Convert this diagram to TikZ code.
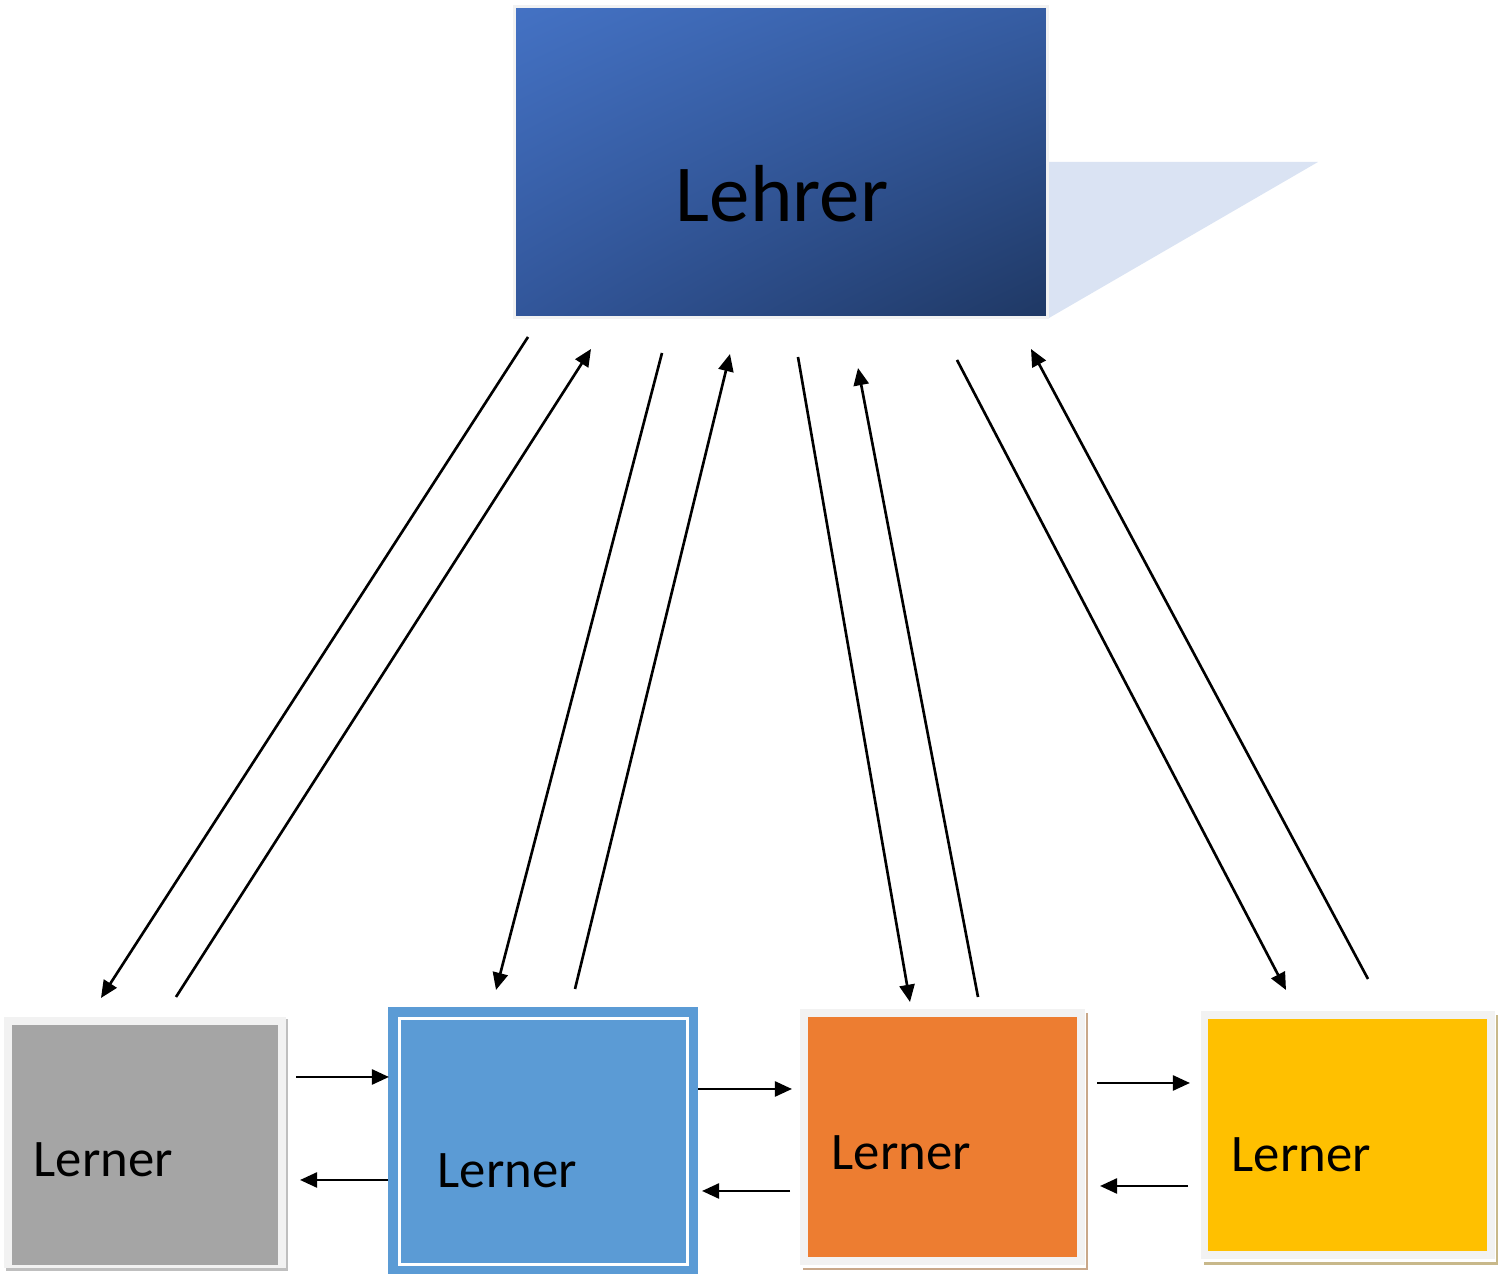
\documentclass[tikz,border=0pt]{standalone}
\usepackage{fontspec}
\setmainfont{Carlito}
\usetikzlibrary{arrows.meta,shadings}
\definecolor{tl}{HTML}{4472C4}
\definecolor{tr}{HTML}{365DA3}
\definecolor{bl}{HTML}{32569A}
\definecolor{br}{HTML}{1F3864}
\definecolor{tri}{HTML}{DAE3F3}
\definecolor{framec}{HTML}{F2F2F2}
\definecolor{grayf}{HTML}{A5A5A5}
\definecolor{bluef}{HTML}{5B9BD5}
\definecolor{orangef}{HTML}{ED7D31}
\definecolor{yellowf}{HTML}{FFC000}
\definecolor{tanO}{HTML}{C9A88A}
\definecolor{tanY}{HTML}{C8B88A}
\definecolor{shadG}{HTML}{BFBFBF}
\begin{document}
\begin{tikzpicture}[x=0.01cm,y=-0.01cm,
  conn/.style={line width=0.75pt,-{Triangle[length=4.9pt,width=4.3pt]}},
  lbl/.style={font=\fontsize{15}{18}\selectfont,anchor=base west,inner sep=0pt},
  boxr/.style={rectangle,inner sep=0pt,draw=none}]
\useasboundingbox (0,0) rectangle (1505,1274);
% teacher
\fill[tri] (1047,162) -- (1318,162) -- (1049,318) -- cycle;
\node[boxr,draw=framec,line width=0.9pt,minimum width=5.33cm,minimum height=3.11cm,
  upper left=tl,upper right=tr,lower left=bl,lower right=br] (lehrer) at (781,162) {};
\node[font=\fontsize{23}{28}\selectfont,anchor=base,inner sep=0pt] (lehrertxt) at (782,222) {Lehrer};
% gray learner
\fill[shadG] (6,1019) rectangle (288,1271);
\node[boxr,fill=framec,minimum width=2.82cm,minimum height=2.51cm] (gframe) at (145,1142.5) {};
\node[boxr,fill=grayf,minimum width=2.66cm,minimum height=2.40cm] (gray) at (145,1145) {};
\node[lbl] (gtxt) at (33,1177) {Lerner};
% blue learner
\node[boxr,fill=bluef,minimum width=3.10cm,minimum height=2.67cm] (blue) at (543,1140.5) {};
\node[boxr,draw=white,line width=0.9pt,minimum width=2.88cm,minimum height=2.455cm] (bline) at (543.5,1141.5) {};
\node[lbl] (btxt) at (437,1188) {Lerner};
% orange learner
\fill[tanO] (803,1013) rectangle (1088,1270);
\fill[white] (801,1011) rectangle (1086,1268);
\node[boxr,fill=framec,minimum width=2.85cm,minimum height=2.56cm] (oframe) at (942.5,1137) {};
\node[boxr,fill=orangef,minimum width=2.69cm,minimum height=2.40cm] (orange) at (942.5,1137) {};
\node[lbl] (otxt) at (831,1170) {Lerner};
% yellow learner
\fill[tanY] (1204,1015) rectangle (1498,1265);
\fill[white] (1202,1013) rectangle (1496,1262);
\node[boxr,fill=framec,minimum width=2.94cm,minimum height=2.48cm] (yframe) at (1348,1135) {};
\node[boxr,fill=yellowf,minimum width=2.79cm,minimum height=2.32cm] (yellow) at (1347.5,1135) {};
\node[lbl] (ytxt) at (1231,1172) {Lerner};
% connector ends
\coordinate (a1s) at (528,337);  \coordinate (a1e) at (101,998);
\coordinate (a2s) at (176,997);  \coordinate (a2e) at (591,349);
\coordinate (a3s) at (662,353);  \coordinate (a3e) at (496,990);
\coordinate (a4s) at (575,989);  \coordinate (a4e) at (730,354);
\coordinate (a5s) at (798,357);  \coordinate (a5e) at (910,1002);
\coordinate (a6s) at (978,997);  \coordinate (a6e) at (858,368);
\coordinate (a7s) at (957,360);  \coordinate (a7e) at (1286,990);
\coordinate (a8s) at (1368,979); \coordinate (a8e) at (1031,349);
\foreach \i in {1,...,8} \draw[conn] (a\i s) -- (a\i e);
% horizontal
\coordinate (h1s) at (296,1077); \coordinate (h1e) at (389,1077);
\coordinate (h2s) at (388,1180); \coordinate (h2e) at (300,1180);
\coordinate (h3s) at (698,1089); \coordinate (h3e) at (792,1089);
\coordinate (h4s) at (790,1191); \coordinate (h4e) at (702,1191);
\coordinate (h5s) at (1097,1083); \coordinate (h5e) at (1190,1083);
\coordinate (h6s) at (1188,1186); \coordinate (h6e) at (1100,1186);
\foreach \i in {1,...,6} \draw[conn] (h\i s) -- (h\i e);
\end{tikzpicture}
\end{document}
